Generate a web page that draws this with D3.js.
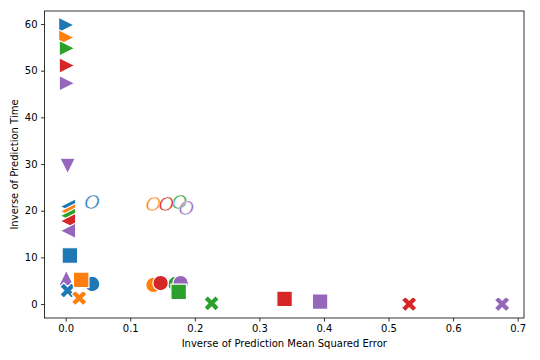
<!DOCTYPE html>
<html>
<head>
<meta charset="utf-8">
<script src="https://cdn.jsdelivr.net/npm/d3@7"></script>
<style>
  body { margin: 0; background: #fff; }
  text { font-family: "DejaVu Sans", sans-serif; }
</style>
</head>
<body>
<svg width="540" height="360"></svg>
<script>
// five series (tab10 colours), one marker type per model
const seriesColors = ['#1f77b4', '#ff7f0e', '#2ca02c', '#d62728', '#9467bd']

// draw order follows the order of these arrays
const triRightX = [0.001, 0.001, 0.002, 0.002, 0.002]
const triRightY = [59.8, 57.1, 54.8, 51.1, 47.3]

const triDownX = [null, null, null, null, 0.003]
const triDownY = [null, null, null, null, 29.6]

const triLeftX = [0.0035, 0.0035, 0.0035, 0.0035, 0.0035]
const triLeftY = [20.9, 19.9, 18.9, 17.8, 15.7]

const textOX = [0.041, 0.136, 0.176, 0.156, 0.187]
const textOY = [21.9, 21.4, 21.9, 21.4, 20.7]

const triUpX = [null, null, null, null, 0.001]
const triUpY = [null, null, null, null, 5.6]

const circleX = [0.041, 0.136, 0.170, 0.147, 0.178]
const circleY = [4.3, 4.1, 4.3, 4.5, 4.5]

const crossX = [0.003, 0.021, 0.226, 0.532, 0.676]
const crossY = [2.9, 1.3, 0.15, 0.0, 0.0]

const squareX = [0.0065, 0.024, 0.175, 0.339, 0.394]
const squareY = [10.4, 5.2, 2.6, 1.1, 0.5]

const xTicks = [0, 0.1, 0.2, 0.3, 0.4, 0.5, 0.6, 0.7]
const yTicks = [0, 10, 20, 30, 40, 50, 60]

const xLabel = 'Inverse of Prediction Mean Squared Error'
const yLabel = 'Inverse of Prediction Time'

const layers = [
    { marker: '>', xs: triRightX, ys: triRightY },
    { marker: 'v', xs: triDownX, ys: triDownY },
    { marker: '<', xs: triLeftX, ys: triLeftY },
    { marker: 'O', xs: textOX, ys: textOY },
    { marker: '^', xs: triUpX, ys: triUpY },
    { marker: 'o', xs: circleX, ys: circleY },
    { marker: 'X', xs: crossX, ys: crossY },
    { marker: 's', xs: squareX, ys: squareY }
]

const svg = d3.select('svg')
const plotLeft = 44.5, plotRight = 524, plotTop = 11, plotBottom = 318
const ms = 15.5

const x = d3.scaleLinear().domain([-0.0328, 0.7098]).range([plotLeft, plotRight])
const y = d3.scaleLinear().domain([-2.99, 62.79]).range([plotBottom, plotTop])

function markerPath(m, s) {
    const h = s / 2
    if (m === '>') return `M${h},0L${-h},${-h}L${-h},${h}Z`
    if (m === '<') return `M${-h},0L${h},${-h}L${h},${h}Z`
    if (m === 'v') return `M0,${h}L${-h},${-h}L${h},${-h}Z`
    if (m === '^') return `M0,${-h}L${-h},${h}L${h},${h}Z`
    if (m === 's') return `M${-h},${-h}H${h}V${h}H${-h}Z`
    if (m === 'o') return d3.arc()({ innerRadius: 0, outerRadius: h, startAngle: 0, endAngle: 2 * Math.PI })
    if (m === 'X') {
        const pts = [[-1, -2], [0, -1], [1, -2], [2, -1], [1, 0], [2, 1],
            [1, 2], [0, 1], [-1, 2], [-2, 1], [-1, 0], [-2, -1]]
        return 'M' + pts.map(p => [p[0] * s / 4, p[1] * s / 4].join(',')).join('L') + 'Z'
    }
}

const marks = svg.append('g')

layers.forEach(layer => {
    layer.xs.forEach((xv, i) => {
        if (xv === null) return
        const cx = x(xv), cy = y(layer.ys[i])
        if (layer.marker === 'O') {
            // text marker, glyph centred on the point
            marks.append('text')
                .attr('x', cx)
                .attr('y', cy + 7.3)
                .attr('text-anchor', 'middle')
                .style('font-family', 'DejaVu Sans')
                .style('font-style', 'italic')
                .style('font-size', '20px')
                .attr('fill', seriesColors[i])
                .attr('stroke', 'white')
                .attr('stroke-width', 0.5)
                .text('O')
        } else {
            marks.append('path')
                .attr('d', markerPath(layer.marker, ms))
                .attr('transform', `translate(${cx},${cy})`)
                .attr('fill', seriesColors[i])
                .attr('stroke', 'white')
                .attr('stroke-width', 1.2)
        }
    })
})

// axes
svg.append('g')
    .attr('transform', `translate(0,${plotBottom})`)
    .call(d3.axisBottom(x).tickValues(xTicks).tickFormat(d3.format('.1f'))
        .tickSize(3.5).tickSizeOuter(0).tickPadding(3.5))
svg.append('g')
    .attr('transform', `translate(${plotLeft},0)`)
    .call(d3.axisLeft(y).tickValues(yTicks)
        .tickSize(3.5).tickSizeOuter(0).tickPadding(3.5))

svg.selectAll('.domain').remove()
svg.selectAll('.tick line').attr('stroke', '#000').attr('stroke-width', 0.8)
svg.selectAll('.tick text')
    .style('font-family', 'DejaVu Sans')
    .style('font-size', '10px')
    .attr('fill', '#000')

svg.append('rect')
    .attr('x', plotLeft).attr('y', plotTop)
    .attr('width', plotRight - plotLeft).attr('height', plotBottom - plotTop)
    .attr('fill', 'none')
    .attr('stroke', '#000')
    .attr('stroke-width', 0.8)

svg.append('text')
    .attr('x', (plotLeft + plotRight) / 2)
    .attr('y', 347)
    .attr('text-anchor', 'middle')
    .style('font-size', '10px')
    .text(xLabel)

svg.append('text')
    .attr('transform', `translate(18,${(plotTop + plotBottom) / 2}) rotate(-90)`)
    .attr('text-anchor', 'middle')
    .style('font-size', '10px')
    .text(yLabel)
</script>
</body>
</html>
